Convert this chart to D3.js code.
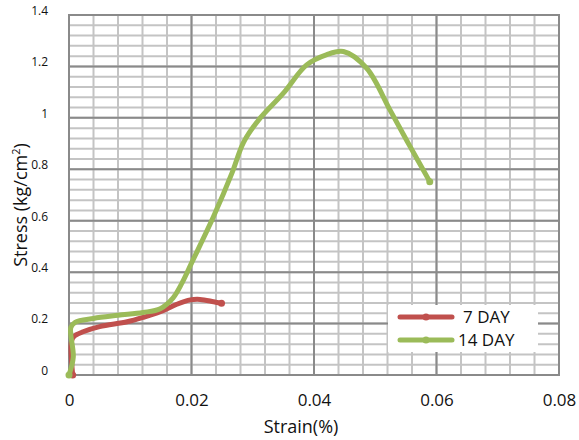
<!DOCTYPE html>
<html><head><meta charset="utf-8">
<script src="https://cdn.jsdelivr.net/npm/d3@7/dist/d3.min.js"></script>
<style>body{margin:0;background:#fff}svg{display:block}text{font-family:"Open Sans",Lato,sans-serif;fill:#111}</style>
</head><body><svg id="c" width="579" height="440"></svg>
<script>
const seriesNames = ["7 DAY", "14 DAY"];
const seriesColors = ["#C0504D", "#9BBB59"];
const day7Strain  = [0.0006, 0.0004, 0.0008, 0.0023, 0.005, 0.0095, 0.0121, 0.0149, 0.0176, 0.0198, 0.0214, 0.0236, 0.0249];
const day7Stress  = [0.0,    0.13,   0.15,   0.168,  0.188, 0.207,  0.224,  0.246,  0.275,  0.292,  0.294,  0.285,  0.279];
const day14Strain = [0.0, 0.0007, 0.0003, 0.001, 0.004, 0.008, 0.0121, 0.0149, 0.017, 0.0185, 0.02, 0.0236, 0.0266, 0.0285, 0.0309, 0.035, 0.0388, 0.042, 0.0448, 0.0486, 0.0524, 0.0557, 0.0589];
const day14Stress = [0.0, 0.07,   0.185,  0.205, 0.22,  0.232, 0.243,  0.258,  0.3,   0.36,   0.435, 0.616, 0.785,  0.905,  0.99,   1.096, 1.206,  1.245, 1.258,  1.193,  1.031,  0.888,  0.752];
const xTicks = [0, 0.02, 0.04, 0.06, 0.08];
const yTicks = [0, 0.2, 0.4, 0.6, 0.8, 1, 1.2, 1.4];

const svg = d3.select("#c");
const L = 69, R = 559, T = 15, B = 375;
const x = d3.scaleLinear().domain([0, 0.08]).range([L, R]);
const y = d3.scaleLinear().domain([0, 1.4]).range([B, T]);

// minor grid
const g = svg.append("g");
const xMinor = d3.range(0, 0.0801, 0.004);
const yMinor = d3.range(0, 1.4001, 0.04);
g.selectAll(".vm").data(xMinor).join("line")
  .attr("x1", d => x(d)).attr("x2", d => x(d)).attr("y1", T).attr("y2", B)
  .attr("stroke", "#c4c4c4").attr("stroke-width", 2);
g.selectAll(".hm").data(yMinor).join("line")
  .attr("x1", L).attr("x2", R).attr("y1", d => y(d)).attr("y2", d => y(d))
  .attr("stroke", "#c4c4c4").attr("stroke-width", 2);
// major grid
const xMajor = d3.range(0, 0.0801, 0.02);
g.selectAll(".vM").data(xMajor).join("line")
  .attr("x1", d => x(d)).attr("x2", d => x(d)).attr("y1", T).attr("y2", B)
  .attr("stroke", "#8a8a8a").attr("stroke-width", 2);
g.selectAll(".hM").data(yTicks).join("line")
  .attr("x1", L).attr("x2", R).attr("y1", d => y(d)).attr("y2", d => y(d))
  .attr("stroke", "#8a8a8a").attr("stroke-width", 2);
g.append("rect").attr("x", L).attr("y", T).attr("width", R - L).attr("height", B - T)
  .attr("fill", "none").attr("stroke", "#8a8a8a").attr("stroke-width", 2);

// axes labels
const yAxis = d3.axisLeft(y).tickValues(yTicks).tickSize(0).tickPadding(21).tickFormat(d3.format("~g"));
const ya = svg.append("g").attr("transform", `translate(${L},0)`).call(yAxis);
ya.select(".domain").remove();
ya.selectAll("text").attr("font-size", 12).attr("dy", "-0.05em").style("font-family", "'Open Sans', Lato, sans-serif").attr("fill", "#111");

const xAxis = d3.axisBottom(x).tickValues(xTicks).tickSize(0).tickPadding(19).tickFormat(d3.format("~g"));
const xa = svg.append("g").attr("transform", `translate(0,${B})`).call(xAxis);
xa.select(".domain").remove();
xa.selectAll("text").attr("font-size", 17).style("font-family", "'Open Sans', Lato, sans-serif").attr("fill", "#111");

svg.append("text").attr("x", 301).attr("y", 433).attr("text-anchor", "middle").attr("font-size", 18).text("Strain(%)");
const yt = svg.append("text").attr("transform", "translate(27,205) rotate(-90)").attr("text-anchor", "middle").attr("font-size", 18);
yt.append("tspan").text("Stress (kg/cm");
yt.append("tspan").attr("dy", -7).attr("font-size", 11).text("2");
yt.append("tspan").attr("dy", 7).text(")");

// series
const series = [
  {name: seriesNames[0], color: seriesColors[0], pts: day7Strain.map((d, i) => [d, day7Stress[i]])},
  {name: seriesNames[1], color: seriesColors[1], pts: day14Strain.map((d, i) => [d, day14Stress[i]])}
];
const line = d3.line().x(d => x(d[0])).y(d => y(d[1])).curve(d3.curveCatmullRom.alpha(0.5));
series.forEach(s => {
  svg.append("path").attr("d", line(s.pts)).attr("fill", "none").attr("stroke", s.color)
    .attr("stroke-width", 5).attr("stroke-linecap", "round").attr("stroke-linejoin", "round");
  svg.selectAll(null).data([s.pts[0], s.pts[s.pts.length - 1]]).join("circle")
    .attr("cx", d => x(d[0])).attr("cy", d => y(d[1])).attr("r", 3.5).attr("fill", s.color);
});

// legend
const lg = svg.append("g");
lg.append("rect").attr("x", 388).attr("y", 305).attr("width", 150).attr("height", 47).attr("fill", "#fff");
series.forEach((s, i) => {
  const yy = 317 + i * 23;
  lg.append("line").attr("x1", 400).attr("x2", 452).attr("y1", yy).attr("y2", yy)
    .attr("stroke", s.color).attr("stroke-width", 5).attr("stroke-linecap", "round");
  lg.append("circle").attr("cx", 426).attr("cy", yy).attr("r", 3.5).attr("fill", s.color);
  lg.append("text").attr("x", i === 0 ? 463 : 458).attr("y", yy + 6).attr("font-size", 17).text(s.name);
});
</script></body></html>
